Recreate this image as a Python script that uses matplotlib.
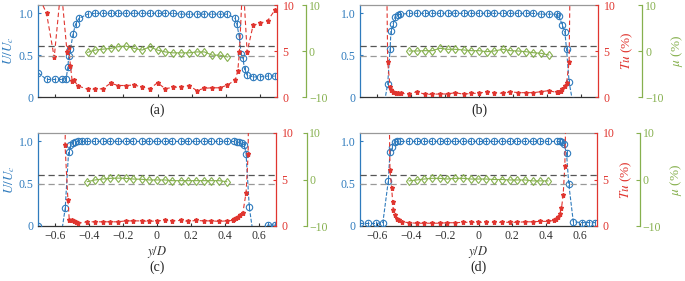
import numpy as np
import matplotlib
matplotlib.use("Agg")
import matplotlib.pyplot as plt

plt.rcParams['font.family'] = ['Liberation Serif', 'DejaVu Serif']
plt.rcParams['mathtext.fontset'] = 'stix'

BLUE = '#2f7bbd'
RED = '#e0352f'
GREEN = '#86b04e'

# common y/D positions of the core-flow stations
grid = [-0.41, -0.365, -0.32, -0.275, -0.23, -0.185, -0.14, -0.09, -0.045, 0.0,
        0.045, 0.09, 0.14, 0.185, 0.23, 0.275, 0.32, 0.365, 0.41]

# (a)
a_blue_x = [-0.70, -0.65, -0.60, -0.56, -0.535, -0.525, -0.52, -0.51, -0.495, -0.48, -0.46] + grid + \
           [0.455, 0.465, 0.478, 0.49, 0.50, 0.51, 0.525, 0.56, 0.60, 0.645, 0.69]
a_blue_u = [0.29, 0.21, 0.21, 0.21, 0.22, 0.36, 0.49, 0.57, 0.75, 0.87, 0.94,
            0.99, 1.0, 1.0, 1.0, 1.0, 1.0, 1.0, 1.0, 1.0, 1.0, 1.0, 1.0, 0.99, 0.99, 0.99, 0.99, 0.99, 0.99, 0.99,
            0.94, 0.87, 0.73, 0.52, 0.47, 0.33, 0.26, 0.24, 0.24, 0.25, 0.25]
a_red_x = [-0.70, -0.65, -0.605, -0.565, -0.53, -0.52, -0.51, -0.50, -0.49, -0.465] + grid + \
          [0.455, 0.47, 0.48, 0.50, 0.525, 0.56, 0.60, 0.645, 0.69]
a_red_tu = [11.1, 9.1, 4.3, 12.0, 4.9, 5.4, 3.4, 1.75, 1.8, 1.2,
            0.85, 0.85, 0.9, 1.5, 1.25, 1.25, 1.3, 1.1, 0.9, 1.55, 0.9, 1.05, 1.1, 1.25, 0.7, 0.95, 1.0, 1.0, 1.3,
            1.85, 2.8, 4.9, 13.0, 4.9, 7.8, 8.0, 8.3, 9.5]
a_green = [-0.3, 0.2, 0.4, 0.55, 0.95, 1.05, 0.6, 0.2, 0.9, 0.2, -0.2, -0.4, -0.4, -0.4, -0.2, -0.2, -0.9, -0.9, -1.3]

# (b)
b_blue_x = [-0.555, -0.537, -0.523, -0.518, -0.505, -0.494, -0.476, -0.463] + grid + \
           [0.457, 0.47, 0.49, 0.505, 0.515, 0.53, 0.55]
b_blue_u = [-0.05, 0.16, 0.57, 0.79, 0.87, 0.96, 0.98, 0.99,
            1.0, 1.0, 1.0, 1.0, 1.0, 1.0, 1.0, 1.0, 1.0, 1.0, 1.0, 1.0, 1.0, 1.0, 1.0, 1.0, 1.0, 0.99, 0.99,
            0.99, 0.97, 0.86, 0.78, 0.57, 0.18, -0.05]
b_red_x = [-0.545, -0.537, -0.523, -0.515, -0.505, -0.49, -0.476, -0.46] + grid + \
          [0.457, 0.465, 0.48, 0.49, 0.505, 0.515, 0.53, 0.538]
b_red_tu = [16.0, 3.8, 1.1, 0.8, 0.55, 0.45, 0.4, 0.4,
            0.33, 0.58, 0.3, 0.3, 0.33, 0.33, 0.47, 0.3, 0.4, 0.4, 0.58, 0.47, 0.4, 0.58, 0.47, 0.47, 0.47, 0.58, 0.69,
            0.5, 0.55, 0.6, 0.9, 1.2, 1.5, 3.8, 16.0]
b_green = [0.0, 0.0, 0.07, 0.07, 0.59, 0.37, 0.37, 0.22, 0.07, 0.07, -0.15, 0.0, 0.37, 0.07, 0.0, -0.15, -0.37, -0.5, -0.87]

# (c)
c_blue_x = [-0.70, -0.56, -0.54, -0.52, -0.51, -0.496, -0.48, -0.466, -0.44] + grid + \
           [0.455, 0.47, 0.485, 0.498, 0.514, 0.524, 0.543, 0.563, 0.652, 0.695]
c_blue_u = [0.0, -0.06, 0.21, 0.88, 0.96, 0.98, 0.99, 1.0, 1.0,
            1.0, 1.0, 1.0, 1.0, 1.0, 1.0, 1.0, 1.0, 1.0, 1.0, 1.0, 1.0, 1.0, 1.0, 1.0, 1.0, 1.0, 1.0, 1.0,
            1.0, 0.99, 0.99, 0.98, 0.96, 0.85, 0.22, -0.06, 0.01, 0.01]
c_red_x = [-0.532, -0.541, -0.524, -0.516, -0.502, -0.49, -0.477, -0.463] + grid + \
          [0.445, 0.455, 0.465, 0.475, 0.49, 0.505, 0.524, 0.536, 0.54]
c_red_tu = [16.0, 8.7, 2.8, 0.65, 0.65, 0.57, 0.46, 0.3,
            0.45, 0.45, 0.45, 0.45, 0.45, 0.55, 0.55, 0.55, 0.5, 0.55, 0.6, 0.55, 0.6, 0.5, 0.6, 0.55, 0.55, 0.5, 0.55,
            0.6, 0.7, 0.85, 1.0, 1.2, 1.4, 3.6, 7.7, 16.0]
c_green = [-0.47, -0.1, 0.1, 0.25, 0.3, 0.25, 0.1, 0.05, -0.1, -0.1, -0.1, -0.25, -0.25, -0.25, -0.25, -0.25, -0.25, -0.25, -0.47]

# (d)
d_blue_x = [-0.70, -0.65, -0.605, -0.565, -0.533, -0.523, -0.513, -0.493, -0.48, -0.464] + grid + \
           [0.464, 0.48, 0.493, 0.505, 0.52, 0.533, 0.56, 0.61, 0.65, 0.69]
d_blue_u = [0.03, 0.03, 0.03, 0.04, 0.53, 0.87, 0.94, 0.99, 1.0, 1.0,
            1.0, 1.0, 1.0, 1.0, 1.0, 1.0, 1.0, 1.0, 1.0, 1.0, 1.0, 1.0, 1.0, 1.0, 1.0, 1.0, 1.0, 1.0, 1.0,
            1.0, 1.0, 0.99, 0.97, 0.86, 0.5, 0.05, 0.04, 0.04, 0.04]
d_red_x = [-0.53, -0.523, -0.513, -0.507, -0.503, -0.493, -0.483, -0.468, -0.454] + grid + \
          [0.445, 0.46, 0.47, 0.48, 0.49, 0.50, 0.51, 0.52]
d_red_tu = [16.0, 6.0, 4.05, 2.6, 1.7, 1.2, 0.8, 0.65, 0.46,
            0.35, 0.3, 0.3, 0.3, 0.3, 0.35, 0.35, 0.4, 0.4, 0.4, 0.4, 0.4, 0.4, 0.4, 0.4, 0.45, 0.45, 0.5, 0.5,
            0.6, 0.75, 0.95, 1.3, 1.9, 3.3, 6.5, 16.0]
d_green = [-0.3, -0.1, 0.1, 0.25, 0.25, 0.1, 0.25, 0.25, 0.1, 0.1, 0.1, 0.0, 0.0, -0.1, -0.1, -0.1, -0.3, -0.3, -0.3]

blue_err = 0.035
x_ticks = [-0.6, -0.4, -0.2, 0, 0.2, 0.4, 0.6]
x_ticklabels = ['\u22120.6', '\u22120.4', '\u22120.2', '0', '0.2', '0.4', '0.6']

W, H = 685, 281
fig = plt.figure(figsize=(W / 100, H / 100), dpi=100)


def panel(left, top, right, bottom, bx, bu, rx, rtu, gmu, caption, cap_y,
          left_label, right_labels, xlabels, g_off):
    ax = fig.add_axes([left / W, 1 - bottom / H, (right - left) / W, (bottom - top) / H])
    ax_r = ax.twinx()
    ax_g = ax.twinx()

    ax.errorbar(bx, bu, yerr=blue_err, color=BLUE, marker='o', ms=4.6, mfc='none', mec=BLUE,
                mew=0.8, lw=0.8, ls=(0, (3.5, 1.5)), elinewidth=0.7, capsize=0, zorder=3)
    ax_r.plot(rx, rtu, color=RED, marker='*', ms=3.6, lw=0.8, ls=(0, (4, 2.5)), zorder=3)
    ax_g.plot(grid, gmu, color=GREEN, marker='d', ms=4.3, mfc='none', mew=0.8, lw=0.8, zorder=3)
    ax_g.axhline(1, color='#555555', lw=0.9, ls=(0, (5, 3)), zorder=1)
    ax_g.axhline(-1, color='#999999', lw=0.9, ls=(0, (5, 3)), zorder=1)

    ax.set_xlim(-0.7, 0.7)
    ax.set_ylim(0, 1.1)
    ax_r.set_ylim(0, 10)
    ax_g.set_ylim(-10, 10)

    ax.set_yticks([0, 0.5, 1.0])
    ax.set_yticklabels(['0', '0.5', '1.0'])
    ax_r.set_yticks([0, 5, 10])
    ax_g.set_yticks([-10, 0, 10])
    ax_g.set_yticklabels(['\u221210', '0', '10'])
    ax.set_xticks(x_ticks)
    if xlabels:
        ax.set_xticklabels(x_ticklabels)
        ax.set_xlabel('$y/D$', fontsize=9, color='#333333', labelpad=1)
    else:
        ax.set_xticklabels([])

    ax.tick_params(axis='y', colors=BLUE, labelsize=8.5, direction='in', length=2, pad=3)
    ax.tick_params(axis='x', colors='#333333', labelsize=8.5, direction='in', length=2, pad=3)
    ax_r.tick_params(axis='y', colors=RED, labelsize=8.5, direction='in', length=2, pad=4)
    ax_g.tick_params(axis='y', colors=GREEN, labelsize=8.5, direction='in', length=3, pad=2)

    for s in ['left', 'top', 'bottom']:
        ax_r.spines[s].set_visible(False)
        ax_g.spines[s].set_visible(False)
    ax.spines['right'].set_visible(False)
    ax.spines['left'].set_color(BLUE)
    ax.spines['top'].set_color('#999999')
    ax.spines['bottom'].set_color('#333333')
    ax_r.spines['right'].set_color(RED)
    ax_g.spines['right'].set_color(GREEN)
    ax_g.spines['right'].set_position(('outward', g_off))
    for a in (ax, ax_r, ax_g):
        for s in a.spines.values():
            s.set_linewidth(0.9)

    if left_label:
        ax.set_ylabel('$U/U_c$', color=BLUE, fontsize=9.5)
        ax.yaxis.set_label_coords(-0.09, 0.5)
    if right_labels:
        ax_r.set_ylabel('$Tu$ (%)', color=RED, fontsize=9.5)
        ax_r.yaxis.set_label_coords(1.09, 0.5)
        ax_g.set_ylabel('$\\mu$ (%)', color=GREEN, fontsize=9.5)
        ax_g.yaxis.set_label_coords(1.3, 0.5)

    fig.text((left + right) / 2 / W, 1 - cap_y / H, caption, ha='center', va='center',
             fontsize=10, color='#222222')


panel(38, 5, 277, 97, a_blue_x, a_blue_u, a_red_x, a_red_tu, a_green, '(a)', 110, True, False, False, 21)
panel(360, 5, 598, 97, b_blue_x, b_blue_u, b_red_x, b_red_tu, b_green, '(b)', 110, False, True, False, 32)
panel(38, 133, 276, 226, c_blue_x, c_blue_u, c_red_x, c_red_tu, c_green, '(c)', 267, True, False, True, 22)
panel(360, 133, 597, 226, d_blue_x, d_blue_u, d_red_x, d_red_tu, d_green, '(d)', 267, False, True, True, 31)

fig.savefig('out.png', dpi=100)
